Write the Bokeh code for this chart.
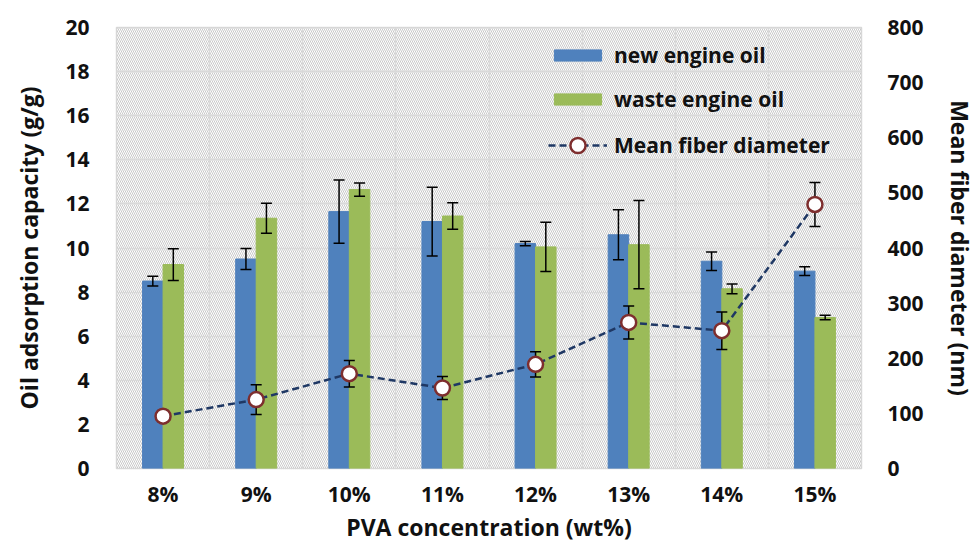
import numpy as np
from bokeh.plotting import figure
from bokeh.models import (Range1d, LinearAxis, FixedTicker, ColumnDataSource,
                          BoxAnnotation, Legend, LegendItem)
from bokeh.embed import file_html
from bokeh.resources import INLINE

categories = ["8%", "9%", "10%", "11%", "12%", "13%", "14%", "15%"]
new_oil = [8.5, 9.5, 11.65, 11.2, 10.2, 10.6, 9.4, 8.95]
new_oil_err = [0.22, 0.48, 1.43, 1.56, 0.1, 1.13, 0.42, 0.2]
waste_oil = [9.25, 11.35, 12.65, 11.45, 10.05, 10.15, 8.15, 6.85]
waste_oil_err = [0.72, 0.68, 0.3, 0.6, 1.12, 2.0, 0.22, 0.1]
diameter = [95, 125, 172, 146, 189, 265, 250, 479]
diameter_err = [10, 27, 24, 21, 23, 30, 34, 40]

FONT = "Open Sans"
TXT = "#111111"
BLUE = "#4F81BD"
GREEN = "#9BBB59"

n = len(categories)
xc = np.arange(n) + 0.5
bw = 0.22

def src(vals, errs, off):
    v = np.array(vals, float); e = np.array(errs, float)
    return ColumnDataSource(dict(x=xc + off, top=v, lo=v - e, hi=v + e))

s_new = src(new_oil, new_oil_err, -bw / 2)
s_waste = src(waste_oil, waste_oil_err, bw / 2)
s_d = src(diameter, diameter_err, 0)

p = figure(width=974, height=547, frame_width=745, frame_height=441,
           x_range=Range1d(0, n), y_range=Range1d(0, 20),
           output_backend="svg", toolbar_location=None,
           min_border_left=116, min_border_top=27, min_border_right=100, min_border_bottom=60)
p.extra_y_ranges = {"d": Range1d(0, 800)}

p.outline_line_color = "#d9d9d9"
p.outline_line_width = 1.5

hatch = BoxAnnotation(fill_alpha=0, line_alpha=0, hatch_pattern="\\",
                      hatch_color="#c9c9c9", hatch_scale=4, hatch_weight=1, level="image")
p.add_layout(hatch)

p.xgrid.ticker = FixedTicker(ticks=list(range(n + 1)))
p.ygrid.ticker = FixedTicker(ticks=list(range(0, 21, 2)))
for g in (p.xgrid, p.ygrid):
    g.grid_line_color = "#d9d9d9"
    g.grid_line_width = 1.5

# axes
p.xaxis.ticker = FixedTicker(ticks=list(xc))
p.xaxis.major_label_overrides = {float(x): c for x, c in zip(xc, categories)}
p.xaxis.axis_label = "PVA concentration (wt%)"
p.yaxis.ticker = FixedTicker(ticks=list(range(0, 21, 2)))
p.yaxis.axis_label = "Oil adsorption capacity (g/g)"

ax2 = LinearAxis(y_range_name="d", ticker=FixedTicker(ticks=list(range(0, 801, 100))),
                 axis_label="Mean fiber diameter (nm)")
p.add_layout(ax2, "right")

for ax in (p.xaxis[0], p.yaxis[0], ax2):
    ax.axis_line_color = None
    ax.major_tick_line_color = None
    ax.minor_tick_line_color = None
    ax.major_tick_out = 0
    ax.minor_tick_out = 0
    ax.major_label_text_font = FONT
    ax.major_label_text_font_style = "bold"
    ax.major_label_text_font_size = "21px"
    ax.major_label_text_color = TXT
    ax.axis_label_text_font = FONT
    ax.axis_label_text_font_style = "bold"
    ax.axis_label_text_font_size = "23px"
    ax.axis_label_text_color = TXT
p.yaxis.major_label_standoff = 27
ax2.major_label_standoff = 26
ax2.axis_label_standoff = 20
p.xaxis.major_label_standoff = 11
p.xaxis.axis_label_standoff = 0
p.yaxis.axis_label_standoff = 17

# bars
r_new = p.vbar(x="x", top="top", width=bw, source=s_new, fill_color=BLUE, line_color=BLUE)
r_waste = p.vbar(x="x", top="top", width=bw, source=s_waste, fill_color=GREEN, line_color=GREEN)

# error bars for bars
for s in (s_new, s_waste):
    p.segment(x0="x", x1="x", y0="lo", y1="hi", source=s, line_color="black", line_width=1.5)
    p.scatter(x="x", y="lo", source=s, marker="dash", size=11, line_color="black", line_width=1.5)
    p.scatter(x="x", y="hi", source=s, marker="dash", size=11, line_color="black", line_width=1.5)

# diameter line
r_line = p.line(x="x", y="top", source=s_d, y_range_name="d", line_color="#1F3864",
                line_width=2.5, line_dash="7 4")
p.segment(x0="x", x1="x", y0="lo", y1="hi", source=s_d, y_range_name="d",
          line_color="black", line_width=1.5)
p.scatter(x="x", y="lo", source=s_d, y_range_name="d", marker="dash", size=11,
          line_color="black", line_width=1.5)
p.scatter(x="x", y="hi", source=s_d, y_range_name="d", marker="dash", size=11,
          line_color="black", line_width=1.5)
r_pts = p.scatter(x="x", y="top", source=s_d, y_range_name="d", marker="circle", size=15,
                  fill_color="white", line_color="#7E2E2E", line_width=2.5)

common = dict(background_fill_alpha=0, border_line_color=None, padding=0, margin=0,
              glyph_width=59, label_text_font=FONT, label_text_font_style="bold",
              label_text_font_size="21px", label_text_color=TXT, label_standoff=7)
legend1 = Legend(items=[LegendItem(label="new engine oil", renderers=[r_new]),
                        LegendItem(label="waste engine oil", renderers=[r_waste])],
                 location=(432, 355), glyph_height=14, spacing=16, **common)
legend2 = Legend(items=[LegendItem(label="Mean fiber diameter", renderers=[r_line, r_pts])],
                 location=(432, 304), glyph_height=38, **common)
p.add_layout(legend1)
p.add_layout(legend2)

open("out.html", "w").write(file_html(p, INLINE))
